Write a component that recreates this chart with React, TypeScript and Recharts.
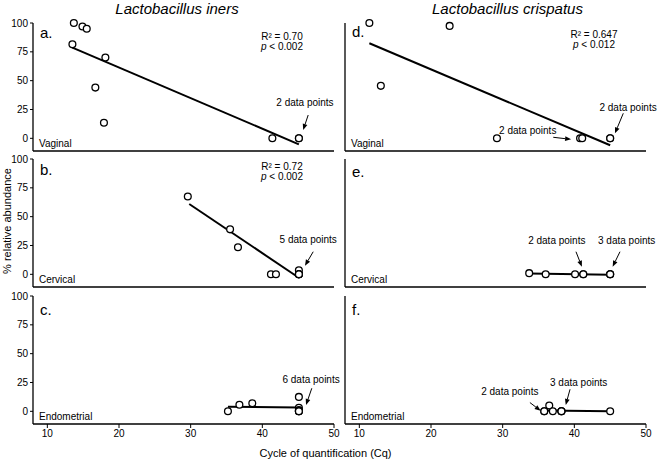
import { ScatterChart, Scatter, XAxis, YAxis, ReferenceLine, ReferenceDot } from "recharts"

const FONT = '"Liberation Sans", Arial, sans-serif'

const cqTicks = [10, 20, 30, 40, 50]
const abundanceTicks = [0, 25, 50, 75, 100]
const species = ["Lactobacillus iners", "Lactobacillus crispatus"]

// L. iners
const inersVaginal = [
  { cq: 13.7, ra: 100 }, { cq: 14.9, ra: 97 }, { cq: 15.5, ra: 95 }, { cq: 13.5, ra: 81.5 },
  { cq: 18.1, ra: 70 }, { cq: 16.7, ra: 44 }, { cq: 17.9, ra: 13.5 }, { cq: 41.4, ra: 0 },
  { cq: 45.1, ra: 0 }, { cq: 45.1, ra: 0 },
]
const inersVaginalFit = [{ cq: 13.5, ra: 78.6 }, { cq: 45.1, ra: -5.2 }]

const inersCervical = [
  { cq: 29.6, ra: 67.5 }, { cq: 35.5, ra: 39 }, { cq: 36.6, ra: 23.5 }, { cq: 41.2, ra: 0 },
  { cq: 41.9, ra: 0 }, { cq: 45.1, ra: 3.5 }, { cq: 45.1, ra: 0 }, { cq: 45.1, ra: 0 },
  { cq: 45.1, ra: 0 }, { cq: 45.1, ra: 0 },
]
const inersCervicalFit = [{ cq: 29.8, ra: 61 }, { cq: 45.1, ra: -3 }]

const inersEndometrial = [
  { cq: 35.2, ra: 0 }, { cq: 36.8, ra: 5.7 }, { cq: 38.6, ra: 7 }, { cq: 45.1, ra: 12.5 },
  { cq: 45.1, ra: 3 }, { cq: 45.1, ra: 1 }, { cq: 45.1, ra: 0 }, { cq: 45.1, ra: 0 },
  { cq: 45.1, ra: 0 },
]
const inersEndometrialFit = [{ cq: 35.2, ra: 3.9 }, { cq: 45.1, ra: 3.3 }]

// L. crispatus
const crispatusVaginal = [
  { cq: 11.4, ra: 100 }, { cq: 22.6, ra: 97.5 }, { cq: 13.0, ra: 45.5 }, { cq: 29.2, ra: 0 },
  { cq: 40.8, ra: 0 }, { cq: 41.1, ra: 0 }, { cq: 45.0, ra: 0 }, { cq: 45.0, ra: 0 },
]
const crispatusVaginalFit = [{ cq: 11.4, ra: 82.4 }, { cq: 45.0, ra: -6 }]

const crispatusCervical = [
  { cq: 33.7, ra: 1 }, { cq: 36.0, ra: 0 }, { cq: 40.1, ra: 0 }, { cq: 41.25, ra: 0 },
  { cq: 41.25, ra: 0 }, { cq: 45.0, ra: 0 }, { cq: 45.0, ra: 0 }, { cq: 45.0, ra: 0 },
]
const crispatusCervicalFit = [{ cq: 33.7, ra: 0.6 }, { cq: 45.0, ra: -0.3 }]

const crispatusEndometrial = [
  { cq: 35.8, ra: 0 }, { cq: 35.8, ra: 0 }, { cq: 36.5, ra: 5 }, { cq: 37.0, ra: 0 },
  { cq: 38.2, ra: 0 }, { cq: 38.2, ra: 0 }, { cq: 38.2, ra: 0 }, { cq: 45.0, ra: 0 },
]
const crispatusEndometrialFit = [{ cq: 35.8, ra: 0.6 }, { cq: 45.0, ra: 0 }]

const W = 658
const H = 461
const colLeft = [33, 345]
const colRight = [334, 646]
const rowTop = [23, 159, 296]
const plotH = 128

const panels = [
  {
    col: 0, row: 0, letter: "a.", letterY: 9.7, site: "Vaginal", points: inersVaginal, fit: inersVaginalFit,
    stats: { r2: "0.70", p: "0.002", y: 13 },
    notes: [{ text: "2 data points", at: [45.95, 30.9], from: [46.4, 20.2], to: [45.7, 7.2] }],
  },
  {
    col: 0, row: 1, letter: "b.", letterY: 11, site: "Cervical", points: inersCervical, fit: inersCervicalFit,
    stats: { r2: "0.72", p: "0.002", y: 7.5 },
    notes: [{ text: "5 data points", at: [46.4, 29.8], from: [47.1, 19.6], to: [45.95, 7.5] }],
  },
  {
    col: 0, row: 2, letter: "c.", letterY: 14, site: "Endometrial", points: inersEndometrial, fit: inersEndometrialFit,
    notes: [{ text: "6 data points", at: [46.8, 27.2], from: [46.9, 20], to: [46.1, 5.5] }],
  },
  {
    col: 1, row: 0, letter: "d.", letterY: 9, site: "Vaginal", points: crispatusVaginal, fit: crispatusVaginalFit,
    stats: { r2: "0.647", p: "0.012", y: 11 },
    notes: [
      { text: "2 data points", at: [47.5, 26.9], from: [46.83, 21.7], to: [45.67, 4.3] },
      { text: "2 data points", at: [33.5, 6.6], from: [37.06, 0.9], to: [39.55, -0.9] },
    ],
  },
  {
    col: 1, row: 1, letter: "e.", letterY: 12.5, site: "Cervical", points: crispatusCervical, fit: crispatusCervicalFit,
    notes: [
      { text: "2 data points", at: [37.55, 29.2], from: [40.23, 19.6], to: [41.05, 6.6] },
      { text: "3 data points", at: [47.3, 29.2], from: [46.37, 19.6], to: [45.35, 6.6] },
    ],
  },
  {
    col: 1, row: 2, letter: "f.", letterY: 13.5, site: "Endometrial", points: crispatusEndometrial, fit: crispatusEndometrialFit,
    notes: [
      { text: "2 data points", at: [31.0, 17], from: [33.8, 7.6], to: [35.3, 0.5] },
      { text: "3 data points", at: [40.6, 25.2], from: [39.4, 19.1], to: [38.8, 5.5] },
    ],
  },
]

function OpenCircle(props: any) {
  const { cx, cy } = props
  return <circle cx={cx} cy={cy} r={3.4} fill="#fff" stroke="#000" strokeWidth={1.3} />
}

function Arrow(props: any) {
  const { x1, y1, x2, y2 } = props
  const a = Math.atan2(y2 - y1, x2 - x1)
  const len = 6
  const w = 2.4
  const bx = x2 - len * Math.cos(a)
  const by = y2 - len * Math.sin(a)
  const px = -Math.sin(a) * w
  const py = Math.cos(a) * w
  return (
    <g>
      <line x1={x1} y1={y1} x2={bx} y2={by} stroke="#000" strokeWidth={1} />
      <polygon points={`${x2},${y2} ${bx + px},${by + py} ${bx - px},${by - py}`} fill="#000" />
    </g>
  )
}

function Panel({ p }: { p: any }) {
  const isBottom = p.row === 2
  const isLeft = p.col === 0
  const yw = isLeft ? 33 : 10
  const top = rowTop[p.row]
  const margin = {
    top,
    left: colLeft[p.col] - yw,
    right: W - colRight[p.col],
    bottom: H - top - plotH - 20,
  }
  return (
    <div style={{ position: "absolute", left: 0, top: 0 }}>
      <ScatterChart width={W} height={H} margin={margin}>
        <XAxis
          type="number"
          dataKey="cq"
          domain={[8, 50]}
          ticks={cqTicks}
          height={20}
          tickSize={4}
          tickMargin={2}
          stroke="#000"
          axisLine={{ strokeWidth: 1.3 }}
          tickLine={{ strokeWidth: 1 }}
          tick={isBottom ? { fontSize: 10, fill: "#000", fontFamily: FONT } : false}
        />
        <YAxis
          type="number"
          dataKey="ra"
          domain={[-11, 100]}
          ticks={abundanceTicks}
          width={yw}
          tickSize={3}
          tickMargin={2}
          stroke="#000"
          axisLine={{ strokeWidth: 1.3 }}
          tickLine={isLeft ? { strokeWidth: 1 } : false}
          tick={isLeft ? { fontSize: 10, fill: "#000", fontFamily: FONT } : false}
        />
        <Scatter data={p.fit} line={{ stroke: "#000", strokeWidth: 2 }} shape={() => <g />} isAnimationActive={false} />
        <Scatter data={p.points} shape={OpenCircle} isAnimationActive={false} />
        {p.notes.map((n: any, i: number) => (
          <ReferenceLine
            key={"a" + i}
            segment={[{ x: n.from[0], y: n.from[1] }, { x: n.to[0], y: n.to[1] }]}
            ifOverflow="visible"
            shape={Arrow}
          />
        ))}
        {p.notes.map((n: any, i: number) => (
          <ReferenceDot
            key={"t" + i}
            x={n.at[0]}
            y={n.at[1]}
            ifOverflow="visible"
            shape={(d: any) => (
              <text x={d.cx} y={d.cy} dy="0.35em" textAnchor="middle" fontSize={10} fontFamily={FONT} fill="#000">
                {n.text}
              </text>
            )}
          />
        ))}
      </ScatterChart>
    </div>
  )
}

export default function App() {
  return (
    <div style={{ position: "absolute", left: 0, top: 0, width: W, height: H, background: "#fff" }}>
      {panels.map((p, i) => (
        <Panel key={i} p={p} />
      ))}
      <svg width={W} height={H} style={{ position: "absolute", left: 0, top: 0, pointerEvents: "none" }} fontFamily={FONT}>
        <text x={177} y={8.3} dy="0.35em" textAnchor="middle" fontSize={15} fontStyle="italic">{species[0]}</text>
        <text x={507.5} y={8.3} dy="0.35em" textAnchor="middle" fontSize={15} fontStyle="italic">{species[1]}</text>
        <text transform="translate(7,221) rotate(-90)" dy="0.35em" textAnchor="middle" fontSize={11}>% relative abundance</text>
        <text x={325.5} y={453.3} dy="0.35em" textAnchor="middle" fontSize={11}>Cycle of quantification (Cq)</text>
        {panels.map((p, i) => {
          const x0 = colLeft[p.col]
          const y0 = rowTop[p.row]
          return (
            <g key={i}>
              <text x={x0 + 7} y={y0 + p.letterY} dy="0.35em" fontSize={15}>{p.letter}</text>
              <text x={x0 + 6} y={y0 + 120.5} dy="0.35em" fontSize={10}>{p.site}</text>
              {p.stats && (
                <g fontSize={10} textAnchor="middle">
                  <text x={x0 + 249} y={y0 + p.stats.y} dy="0.35em">R² = {p.stats.r2}</text>
                  <text x={x0 + 249} y={y0 + p.stats.y + 10} dy="0.35em">
                    <tspan fontStyle="italic">p</tspan> &lt; {p.stats.p}
                  </text>
                </g>
              )}
            </g>
          )
        })}
      </svg>
    </div>
  )
}
